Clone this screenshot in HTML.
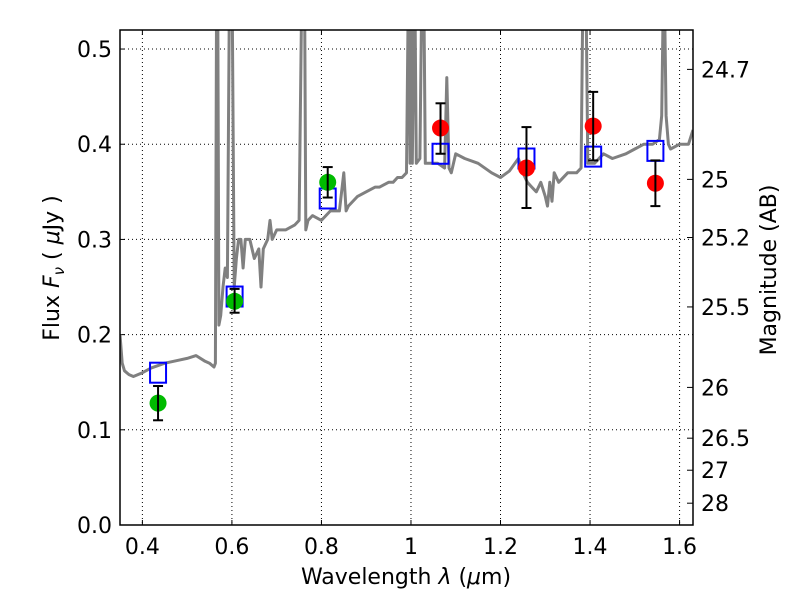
<!DOCTYPE html>
<html><head><meta charset="utf-8"><style>
body{margin:0;background:#fff;}
svg text{font-family:"DejaVu Sans","Liberation Sans",sans-serif;}
</style></head><body>
<svg id="chart" width="800" height="600" xmlns="http://www.w3.org/2000/svg"></svg>
<script>
const specX=[0.35,0.355,0.36,0.37,0.38,0.39,0.40,0.42,0.45,0.48,0.50,0.52,0.54,0.55,0.56,0.563,0.566,0.568,0.571,0.575,0.58,0.585,0.59,0.595,0.60,0.605,0.61,0.615,0.62,0.625,0.63,0.64,0.65,0.66,0.665,0.67,0.68,0.685,0.69,0.70,0.72,0.74,0.75,0.757,0.76,0.762,0.765,0.77,0.78,0.80,0.82,0.84,0.85,0.855,0.86,0.88,0.90,0.92,0.93,0.95,0.96,0.97,0.98,0.99,0.995,0.998,1.0,1.003,1.008,1.012,1.02,1.025,1.028,1.032,1.04,1.06,1.075,1.08,1.085,1.09,1.1,1.12,1.15,1.18,1.2,1.22,1.24,1.25,1.26,1.27,1.28,1.29,1.3,1.305,1.31,1.315,1.32,1.33,1.35,1.37,1.38,1.385,1.39,1.395,1.4,1.41,1.43,1.45,1.48,1.5,1.52,1.54,1.555,1.56,1.565,1.57,1.575,1.58,1.6,1.62,1.63];
const specY=[0.2,0.17,0.162,0.158,0.156,0.158,0.16,0.165,0.17,0.173,0.175,0.178,0.172,0.17,0.166,0.17,0.6,0.6,0.21,0.22,0.25,0.27,0.26,0.6,0.6,0.25,0.28,0.3,0.3,0.27,0.3,0.3,0.28,0.29,0.25,0.29,0.3,0.32,0.3,0.31,0.31,0.315,0.32,0.6,0.6,0.6,0.31,0.32,0.325,0.32,0.33,0.33,0.37,0.33,0.335,0.345,0.35,0.355,0.355,0.36,0.36,0.365,0.365,0.37,0.6,0.38,0.6,0.38,0.6,0.38,0.385,0.6,0.6,0.38,0.38,0.38,0.375,0.47,0.375,0.37,0.39,0.385,0.38,0.37,0.365,0.372,0.385,0.37,0.36,0.355,0.35,0.36,0.345,0.335,0.36,0.34,0.37,0.36,0.37,0.37,0.375,0.6,0.6,0.38,0.38,0.38,0.39,0.385,0.39,0.395,0.4,0.4,0.405,0.43,0.6,0.43,0.4,0.395,0.4,0.4,0.415];
const phX=[0.435,0.606,0.814];
const phY=[0.128,0.235,0.36];
const phLo=[0.110,0.223,0.344];
const phHi=[0.146,0.248,0.376];
const rX=[1.066,1.258,1.407,1.546];
const rY=[0.417,0.375,0.419,0.359];
const rLo=[0.390,0.333,0.383,0.335];
const rHi=[0.443,0.418,0.455,0.383];
const mX=[0.435,0.606,0.814,1.066,1.258,1.407,1.546];
const mY=[0.160,0.240,0.343,0.390,0.385,0.387,0.393];
const xTicks=[0.4,0.6,0.8,1.0,1.2,1.4,1.6];
const xTickLabels=["0.4","0.6","0.8","1","1.2","1.4","1.6"];
const yTicks=[0,0.1,0.2,0.3,0.4,0.5];
const yTickLabels=["0.0","0.1","0.2","0.3","0.4","0.5"];
const magTicks=[24.7,25,25.2,25.5,26,26.5,27,28];
const magLabels=["24.7","25","25.2","25.5","26","26.5","27","28"];

const L=120,R=693,T=30,B=525,X0=0.35,X1=1.63,Y0=0,Y1=0.52;
const sx=v=>L+(v-X0)/(X1-X0)*(R-L);
const sy=v=>B-(v-Y0)/(Y1-Y0)*(B-T);
const NS="http://www.w3.org/2000/svg";
const svg=document.getElementById('chart');
function mk(t,a,p){const e=document.createElementNS(NS,t);for(const k in a)e.setAttribute(k,a[k]);(p||svg).appendChild(e);return e;}

const defs=mk('defs',{});const cp=mk('clipPath',{id:'clip'},defs);mk('rect',{x:L,y:T,width:R-L,height:B-T},cp);

xTicks.forEach((v,i)=>{
 const g=mk('line',{x1:sx(v),x2:sx(v),y1:T,y2:B,stroke:'#000','stroke-width':1,'stroke-dasharray':'1,3'});
 
 mk('line',{x1:sx(v),x2:sx(v),y1:B,y2:B-5,stroke:'#000'});mk('line',{x1:sx(v),x2:sx(v),y1:T,y2:T+5,stroke:'#000'});
 const t=mk('text',{x:sx(v),y:B+29,'font-size':22,'text-anchor':'middle'});t.textContent=xTickLabels[i];
 
});
yTicks.forEach((v,i)=>{
 const g=mk('line',{x1:L,x2:R,y1:sy(v),y2:sy(v),stroke:'#000','stroke-width':1,'stroke-dasharray':'1,3'});
 
 mk('line',{x1:L,x2:L+5,y1:sy(v),y2:sy(v),stroke:'#000'});
 const t=mk('text',{x:L-8,y:sy(v)+8,'font-size':22,'text-anchor':'end'});t.textContent=yTickLabels[i];
 
});
magTicks.forEach((m,i)=>{
 const f=Math.pow(10,(23.9-m)/2.5);
 mk('line',{x1:R,x2:R-6,y1:sy(f),y2:sy(f),stroke:'#000'});
 const t=mk('text',{x:R+8,y:sy(f)+8,'font-size':22});t.textContent=magLabels[i];
 
});

const pts=specX.map((x,i)=>sx(x).toFixed(1)+','+sy(specY[i]).toFixed(1)).join(' ');
const sp=mk('polyline',{points:pts,fill:'none',stroke:'#808080','stroke-width':3,'clip-path':'url(#clip)','stroke-linejoin':'round'});


mX.forEach((x,i)=>{const r=mk('rect',{x:sx(x)-8,y:sy(mY[i])-10,width:16,height:20,fill:'none',stroke:'#0000ff','stroke-width':2});
 });

function errbar(x,lo,hi){const X=sx(x);mk('line',{x1:X,x2:X,y1:sy(lo),y2:sy(hi),stroke:'#000','stroke-width':2});
 mk('line',{x1:X-5,x2:X+5,y1:sy(lo),y2:sy(lo),stroke:'#000','stroke-width':2});
 mk('line',{x1:X-5,x2:X+5,y1:sy(hi),y2:sy(hi),stroke:'#000','stroke-width':2});}
phX.forEach((x,i)=>{const c=mk('circle',{cx:sx(x),cy:sy(phY[i]),r:8.5,fill:'#00bb00'});
 errbar(x,phLo[i],phHi[i]);});
rX.forEach((x,i)=>{const c=mk('circle',{cx:sx(x),cy:sy(rY[i]),r:8.5,fill:'#ff0000'});
 errbar(x,rLo[i],rHi[i]);});

const fr=mk('rect',{x:L,y:T,width:R-L,height:B-T,fill:'none',stroke:'#000','stroke-width':1.5});


const xl=mk('text',{x:406,y:584,'font-size':22,'text-anchor':'middle','xml:space':'preserve'});
xl.innerHTML='Wavelength  <tspan font-style="italic">λ</tspan> (<tspan font-style="italic">μ</tspan>m)';

const yl=mk('text',{x:0,y:0,'font-size':22,'text-anchor':'middle',transform:'translate(59,268) rotate(-90)','xml:space':'preserve'});
yl.innerHTML='Flux  <tspan font-style="italic">F</tspan><tspan font-style="italic" font-size="15" dy="5">ν</tspan><tspan dy="-5">  (  </tspan><tspan font-style="italic">μ</tspan>Jy )';

const ml=mk('text',{x:0,y:0,'font-size':22,'text-anchor':'middle',transform:'translate(776,270) rotate(-90)'});
ml.textContent='Magnitude (AB)';

</script>
</body></html>
